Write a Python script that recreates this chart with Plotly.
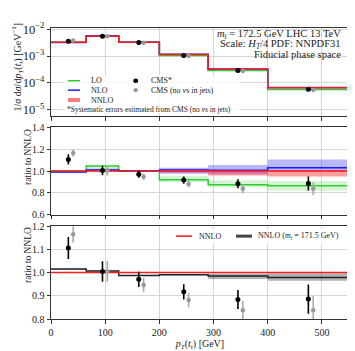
import plotly.graph_objects as go

# bin edges in pT(tt) [GeV]
edges = [0, 65, 125, 200, 290, 400, 550]

# NNLO absolute distribution 1/sigma dsigma/dpT [GeV^-1]
nnlo = [3.25e-3, 5.5e-3, 3.3e-3, 1.15e-3, 3.3e-4, 6.6e-5]
nnlo_lo = [0.997, 0.997, 0.997, 0.985, 0.96, 0.95]
nnlo_hi = [1.003, 1.003, 1.003, 1.005, 1.01, 1.01]

# ratios to NNLO
nlo_ratio = [0.99, 1.01, 1.0, 1.01, 1.008, 1.03]
nlo_lo = [0.985, 1.0, 0.995, 0.975, 0.97, 1.0]
nlo_hi = [1.0, 1.02, 1.005, 1.03, 1.055, 1.105]

lo_ratio = [1.0, 1.045, 1.0, 0.92, 0.875, 0.865]
lo_lo = [0.998, 1.005, 0.998, 0.90, 0.85, 0.82]
lo_hi = [1.002, 1.05, 1.002, 0.955, 0.915, 0.91]

mt1715_ratio = [1.015, 1.007, 0.987, 0.991, 0.985, 0.979]
mt1715_lo = [1.013, 1.005, 0.985, 0.989, 0.972, 0.965]
mt1715_hi = [1.017, 1.009, 0.989, 0.993, 0.995, 0.997]

# CMS data
cms_x = [32, 95, 162, 245, 345, 475]
cms_ratio = [1.106, 1.005, 0.971, 0.917, 0.884, 0.886]
cms_err = [0.047, 0.044, 0.033, 0.033, 0.041, 0.063]

cms_nonu_x = [41, 104, 171, 254, 354, 484]
cms_nonu_ratio = [1.165, 1.005, 0.947, 0.882, 0.838, 0.838]
cms_nonu_err = [0.035, 0.045, 0.03, 0.031, 0.041, 0.06]

GREEN = "#2ecc2e"
BLUE = "#1a1aff"
RED = "#ff1a1a"
FONT = "Liberation Serif"
TXT = "#222222"


def step(v):
    return list(v) + [v[-1]]


def line(fig, vals, color, xa, ya, width=1.5):
    fig.add_trace(go.Scatter(x=edges, y=step(vals), mode="lines", line_shape="hv",
                             line=dict(color=color, width=width),
                             xaxis=xa, yaxis=ya, showlegend=False, hoverinfo="skip"))


def band(fig, lo, hi, color, xa, ya):
    fig.add_trace(go.Scatter(x=edges, y=step(lo), mode="lines", line_shape="hv",
                             line=dict(width=0), xaxis=xa, yaxis=ya,
                             showlegend=False, hoverinfo="skip"))
    fig.add_trace(go.Scatter(x=edges, y=step(hi), mode="lines", line_shape="hv",
                             line=dict(width=0), fill="tonexty", fillcolor=color,
                             xaxis=xa, yaxis=ya, showlegend=False, hoverinfo="skip"))


def points(fig, x, y, err, color, ecolor, size, xa, ya):
    fig.add_trace(go.Scatter(x=x, y=y, mode="markers",
                             marker=dict(color=color, size=size),
                             error_y=dict(type="data", array=err, color=ecolor,
                                          thickness=1.6, width=0),
                             xaxis=xa, yaxis=ya, showlegend=False, hoverinfo="skip"))


fig = go.Figure()

# top panel: absolute distributions
lo_abs = [r * n for r, n in zip(lo_ratio, nnlo)]
nlo_abs = [r * n for r, n in zip(nlo_ratio, nnlo)]
line(fig, lo_abs, GREEN, "x", "y")
line(fig, nlo_abs, BLUE, "x", "y")
line(fig, nnlo, RED, "x", "y")
points(fig, cms_nonu_x, [r * n for r, n in zip(cms_nonu_ratio, nnlo)],
       [e * n for e, n in zip(cms_nonu_err, nnlo)], "#999999", "#aaaaaa", 4.5, "x", "y")
points(fig, cms_x, [r * n for r, n in zip(cms_ratio, nnlo)],
       [e * n for e, n in zip(cms_err, nnlo)], "black", "black", 5, "x", "y")

# middle panel: ratio to NNLO
band(fig, lo_lo, lo_hi, "rgba(40,200,40,0.2)", "x2", "y2")
band(fig, nlo_lo, nlo_hi, "rgba(40,40,255,0.33)", "x2", "y2")
band(fig, nnlo_lo, nnlo_hi, "rgba(255,40,40,0.45)", "x2", "y2")
line(fig, lo_ratio, GREEN, "x2", "y2")
line(fig, nlo_ratio, BLUE, "x2", "y2")
line(fig, [1.0] * 6, RED, "x2", "y2")
points(fig, cms_nonu_x, cms_nonu_ratio, cms_nonu_err, "#999999", "#aaaaaa", 4.5, "x2", "y2")
points(fig, cms_x, cms_ratio, cms_err, "black", "black", 5, "x2", "y2")

# bottom panel: mt = 171.5 vs NNLO
band(fig, mt1715_lo, mt1715_hi, "rgba(0,0,0,0.3)", "x3", "y3")
line(fig, mt1715_ratio, "#222222", "x3", "y3")
line(fig, [1.0] * 6, RED, "x3", "y3")
points(fig, cms_nonu_x, cms_nonu_ratio, cms_nonu_err, "#999999", "#aaaaaa", 4.5, "x3", "y3")
points(fig, cms_x, cms_ratio, cms_err, "black", "black", 5, "x3", "y3")

axis_common = dict(showline=True, mirror=True, linecolor="#333333", linewidth=1,
                   ticks="outside", ticklen=3.5, tickcolor="#333333",
                   showgrid=True, gridcolor="#d6d6d6", gridwidth=1, zeroline=False,
                   tickfont=dict(family=FONT, size=10, color=TXT))
xax = dict(range=[0, 550], dtick=100, **axis_common)

fig.update_layout(
    width=355, height=351,
    margin=dict(l=43, r=14, t=14, b=28),
    paper_bgcolor="white", plot_bgcolor="white",
    font=dict(family=FONT, color=TXT),
    xaxis=dict(anchor="y", showticklabels=False, **xax),
    xaxis2=dict(anchor="y2", showticklabels=False, **xax),
    xaxis3=dict(anchor="y3", title=dict(text="<i>p<sub>T</sub></i>(<i>t<sub>t</sub></i>) [GeV]",
                                         font=dict(family=FONT, size=10, color=TXT), standoff=2), **xax),
    yaxis=dict(domain=[0.696, 1.0], type="log", range=[-5.245, -1.955], dtick=1,
               exponentformat="power", **axis_common),
    yaxis2=dict(domain=[0.358, 0.659], range=[0.6, 1.4], dtick=0.2, tickformat=".1f", **axis_common),
    yaxis3=dict(domain=[0.0, 0.319], range=[0.8, 1.2], dtick=0.1, tickformat=".1f", **axis_common),
)

W, H = 298.0, 309.0


def px(x):
    return (x - 43) / W


def py(y):
    return (323 - y) / H


ann = []
# y-axis titles
ann.append(dict(text="1/<i>σ</i> d<i>σ</i>/d<i>p<sub>T</sub></i>(<i>t<sub>t</sub></i>) [GeV<sup>−1</sup>]",
                x=px(9), y=py(56), textangle=-90, font=dict(size=10)))
ann.append(dict(text="ratio to NNLO", x=px(20), y=py(151), textangle=-90, font=dict(size=9.5)))
ann.append(dict(text="ratio to NNLO", x=px(20), y=py(255), textangle=-90, font=dict(size=9.5)))

# info text top right
for t, yy in [("<i>m<sub>t</sub></i> = 172.5 GeV LHC 13 TeV", 20.5),
              ("Scale: <i>H<sub>T</sub></i>/4 PDF: NNPDF31", 31.5),
              ("Fiducial phase space", 42.5)]:
    ann.append(dict(text=t, x=px(335), y=py(yy), xanchor="right", font=dict(size=10.5)))

shapes = []
# top legend box
shapes.append(dict(type="rect", xref="paper", yref="paper", x0=px(55), x1=px(232),
                   y0=py(106), y1=py(64), fillcolor="rgba(255,255,255,0.8)", line=dict(width=0),
                   layer="above"))
leg1 = [("LO", GREEN, 1.5, 70), ("NLO", BLUE, 1.5, 80), ("NNLO", "rgba(255,90,90,0.8)", 4, 90.5)]
for name, c, w, yy in leg1:
    shapes.append(dict(type="line", xref="paper", yref="paper", x0=px(60), x1=px(72),
                       y0=py(yy), y1=py(yy), line=dict(color=c, width=w), layer="above"))
    ann.append(dict(text=name, x=px(81), y=py(yy), xanchor="left", font=dict(size=8)))
leg2 = [("CMS*", "black", 2.5, 70), ("CMS (no <i>ν</i>s in jets)", "#999999", 2.2, 80)]
for name, c, r, yy in leg2:
    shapes.append(dict(type="circle", xref="paper", yref="paper", x0=px(127.7 - r), x1=px(127.7 + r),
                       y0=py(yy + r), y1=py(yy - r), fillcolor=c, line=dict(width=0), layer="above"))
    ann.append(dict(text=name, x=px(141), y=py(yy), xanchor="left", font=dict(size=8)))
ann.append(dict(text="*Systematic errors estimated from CMS (no <i>ν</i>s in jets)", x=px(57), y=py(101),
                xanchor="left", font=dict(size=7.5)))

# bottom legend
shapes.append(dict(type="rect", xref="paper", yref="paper", x0=px(163), x1=px(338),
                   y0=py(244), y1=py(227), fillcolor="rgba(255,255,255,0.8)", line=dict(width=0),
                   layer="above"))
leg3 = [("NNLO", RED, 1.5, 168, 189), ("NNLO (<i>m<sub>t</sub></i> = 171.5 GeV)", "#444444", 3, 228, 248)]
for name, c, w, x0, xt in leg3:
    shapes.append(dict(type="line", xref="paper", yref="paper", x0=px(x0), x1=px(x0 + 16),
                       y0=py(235), y1=py(235), line=dict(color=c, width=w), layer="above"))
    ann.append(dict(text=name, x=px(xt), y=py(235), xanchor="left", font=dict(size=8)))

for a in ann:
    a.setdefault("xanchor", "center")
    a.update(xref="paper", yref="paper", showarrow=False, yanchor="middle")
    a["font"] = dict(family=FONT, color=TXT, **a["font"])

fig.update_layout(annotations=ann, shapes=shapes)
fig.write_html("out.html")
